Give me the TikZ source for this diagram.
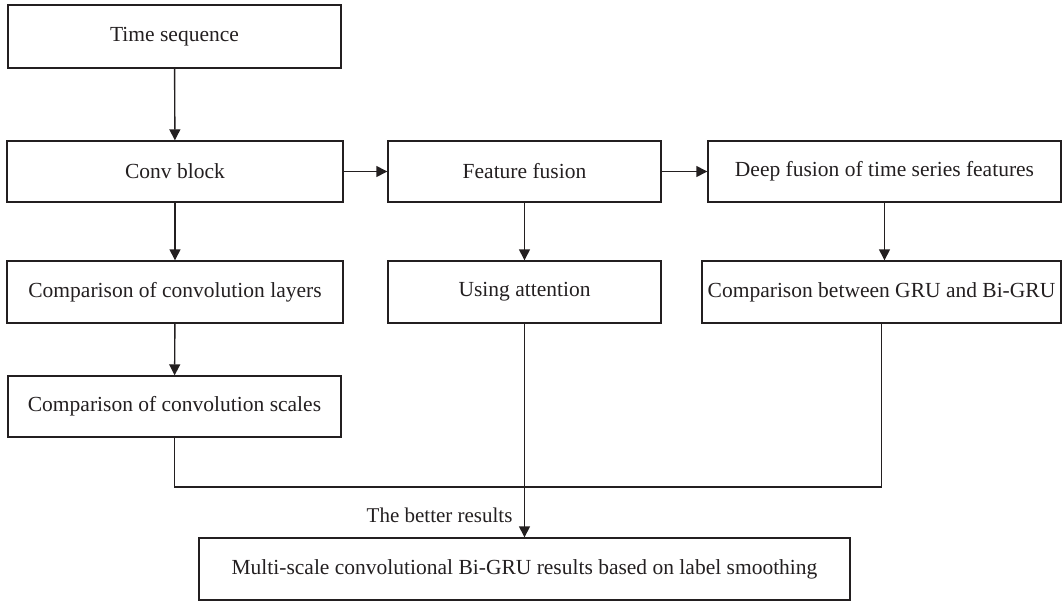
\documentclass[tikz,border=0pt]{standalone}
\usepackage{fontspec}
\setmainfont{Liberation Serif}
\usepackage{tikz}
\usetikzlibrary{positioning}
\usetikzlibrary{arrows.meta}
\definecolor{ink}{RGB}{35,31,32}

\begin{document}
\begin{tikzpicture}[x=1pt,y=-1pt,
  box/.style={draw=ink,line width=1.4pt,text=ink,inner sep=0pt,
    font=\fontsize{21.5}{25}\selectfont},
  link/.style={draw=ink,line width=1.4pt,-{Triangle[length=11pt,width=11pt]}}]
 \useasboundingbox (0,0) rectangle (1062,603);
 % first column
 \node[box,minimum width=333pt,minimum height=63pt] (ts) at (174.5,36.5) {Time sequence};
 \node[box,minimum width=336pt,minimum height=61pt] (conv) at (175,171.5) {Conv block};
 \node[box,minimum width=336pt,minimum height=62pt] (layers) at (175,292) {Comparison of convolution layers};
 \node[box,minimum width=333pt,minimum height=61pt] (scales) at (174.5,406.5) {Comparison of convolution scales};
 % middle and right columns
 \node[box,minimum width=273pt,minimum height=61pt] (fuse) at (524.5,171.5) {Feature fusion};
 \node[box,minimum width=273pt,minimum height=62pt] (att) at (524.5,292) {Using attention};
 \node[box,minimum width=353pt,minimum height=61pt] (deep) at (884.5,171.5) {Deep fusion of time series features};
 \node[box,minimum width=359pt,minimum height=62pt] (gru) at (881.5,292) {Comparison between GRU and Bi-GRU};
 % result
 \node[box,minimum width=651pt,minimum height=62pt] (res) at (524.5,569) {Multi-scale convolutional Bi-GRU results based on label smoothing};
 \node[text=ink,font=\fontsize{21}{25}\selectfont,anchor=east] (lbl) at (516,515) {The better results};
 \coordinate (bus) at (0,487);

 \draw[link] (ts) -- (conv);
 \draw[link] (conv) -- (layers);
 \draw[link] (layers) -- (scales);
 \draw[link] (conv) -- (fuse);
 \draw[link] (fuse) -- (deep);
 \draw[link] (fuse) -- (att);
 \draw[link] (deep.south) -- (deep.south |- gru.north);
 \draw[link] (att) -- (res);
 \draw[draw=ink,line width=1.4pt] (scales.south) -- (scales.south |- bus) -- (gru.south |- bus) -- (gru.south);
\end{tikzpicture}
\end{document}
